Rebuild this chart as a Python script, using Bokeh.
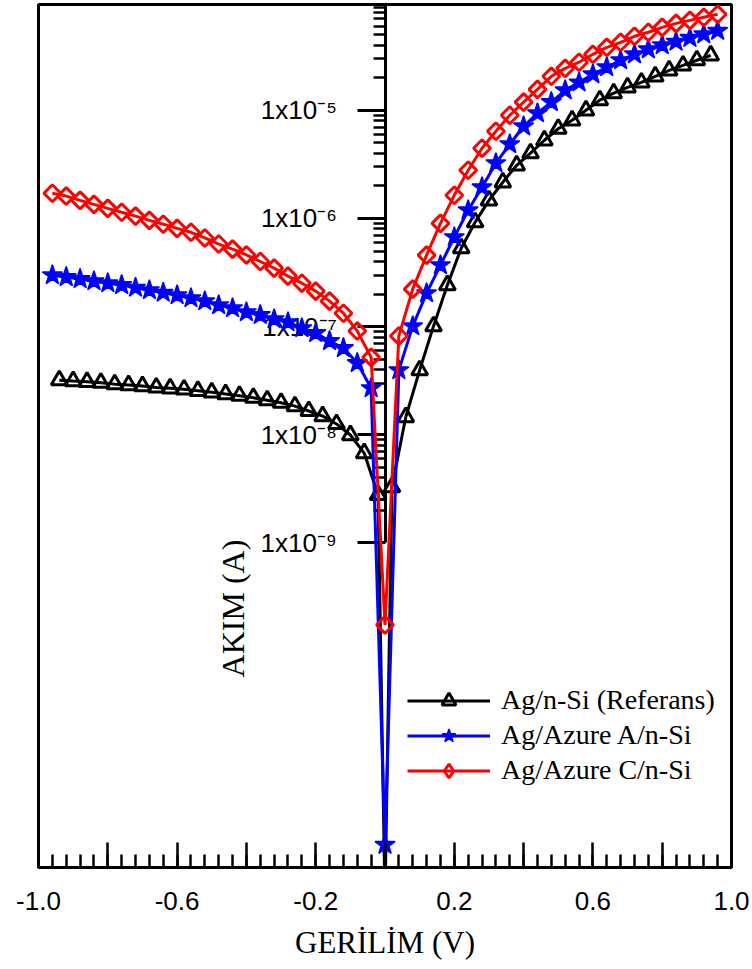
import numpy as np
from bokeh.plotting import figure
from bokeh.models import FixedTicker, Legend, LegendItem, Label, Range1d
from bokeh.embed import file_html
from bokeh.resources import INLINE

# ---- measured I-V data (current in A) ----
voltage_rb = [-0.96, -0.92, -0.88, -0.84, -0.80, -0.76, -0.72, -0.68, -0.64, -0.60,
              -0.56, -0.52, -0.48, -0.44, -0.40, -0.36, -0.32, -0.28, -0.24, -0.20,
              -0.16, -0.12, -0.08, -0.04, 0.0, 0.04, 0.08, 0.12, 0.16, 0.20,
              0.24, 0.28, 0.32, 0.36, 0.40, 0.44, 0.48, 0.52, 0.56, 0.60,
              0.64, 0.68, 0.72, 0.76, 0.80, 0.84, 0.88, 0.92, 0.96]

voltage_ref = [-0.94, -0.90, -0.86, -0.82, -0.78, -0.74, -0.70, -0.66, -0.62, -0.58,
               -0.54, -0.50, -0.46, -0.42, -0.38, -0.34, -0.30, -0.26, -0.22, -0.18,
               -0.14, -0.10, -0.06, -0.02, 0.0, 0.02, 0.06, 0.10, 0.14, 0.18,
               0.22, 0.26, 0.30, 0.34, 0.38, 0.42, 0.46, 0.50, 0.54, 0.58,
               0.62, 0.66, 0.70, 0.74, 0.78, 0.82, 0.86, 0.90, 0.94]

current_ref = [3.20e-8, 3.14e-8, 3.09e-8, 3.03e-8, 2.94e-8, 2.88e-8, 2.82e-8, 2.74e-8, 2.69e-8, 2.63e-8,
               2.55e-8, 2.47e-8, 2.38e-8, 2.30e-8, 2.20e-8, 2.09e-8, 1.98e-8, 1.84e-8, 1.66e-8, 1.49e-8,
               1.26e-8, 9.95e-9, 6.78e-9, 2.78e-9, 5.0e-13, 3.29e-9, 1.46e-8, 3.96e-8, 1.01e-7, 2.42e-7,
               5.31e-7, 9.23e-7, 1.47e-6, 2.16e-6, 3.10e-6, 4.01e-6, 5.28e-6, 6.75e-6, 8.08e-6, 1.00e-5,
               1.24e-5, 1.44e-5, 1.63e-5, 1.81e-5, 2.06e-5, 2.34e-5, 2.60e-5, 2.90e-5, 3.22e-5]

current_a = [2.99e-7, 2.87e-7, 2.75e-7, 2.63e-7, 2.52e-7, 2.42e-7, 2.29e-7, 2.17e-7, 2.06e-7, 1.95e-7,
             1.83e-7, 1.72e-7, 1.58e-7, 1.48e-7, 1.36e-7, 1.28e-7, 1.17e-7, 1.10e-7, 9.68e-8, 8.71e-8,
             7.35e-8, 6.33e-8, 4.60e-8, 2.70e-8, 1.62e-12, 3.96e-8, 1.01e-7, 2.04e-7, 3.70e-7, 6.71e-7,
             1.19e-6, 1.94e-6, 3.24e-6, 4.85e-6, 7.11e-6, 9.38e-6, 1.19e-5, 1.53e-5, 1.81e-5, 2.15e-5,
             2.50e-5, 2.90e-5, 3.29e-5, 3.66e-5, 3.99e-5, 4.30e-5, 4.67e-5, 5.04e-5, 5.43e-5]

current_c = [1.71e-6, 1.61e-6, 1.47e-6, 1.35e-6, 1.24e-6, 1.14e-6, 1.05e-6, 9.60e-7, 8.85e-7, 8.10e-7,
             7.45e-7, 6.60e-7, 5.80e-7, 5.20e-7, 4.60e-7, 4.00e-7, 3.47e-7, 2.93e-7, 2.52e-7, 2.13e-7,
             1.72e-7, 1.33e-7, 9.10e-8, 5.20e-8, 1.75e-10, 8.20e-8, 2.22e-7, 4.58e-7, 9.00e-7, 1.64e-6,
             2.79e-6, 4.46e-6, 6.40e-6, 9.00e-6, 1.19e-5, 1.56e-5, 2.06e-5, 2.44e-5, 2.78e-5, 3.29e-5,
             3.82e-5, 4.25e-5, 4.83e-5, 5.26e-5, 5.84e-5, 6.36e-5, 6.78e-5, 7.23e-5, 7.71e-5]

series_names = ["Ag/n-Si (Referans)", "Ag/Azure A/n-Si", "Ag/Azure C/n-Si"]

# ---- axis ticks ----
x_ticks = [-1.0, -0.8, -0.6, -0.4, -0.2, 0, 0.2, 0.4, 0.6, 0.8, 1.0]
x_tick_labels = ["-1.0", "", "-0.6", "", "-0.2", "", "0.2", "", "0.6", "", "1.0"]
x_minor_ticks = [round(-1.0 + 0.04 * i, 2) for i in range(51)]

y_ticks = [1e-9, 1e-8, 1e-7, 1e-6, 1e-5]
y_tick_labels = ["1x10\u207b\u2079", "1x10\u207b\u2078", "1x10\u207b\u2077",
                 "1x10\u207b\u2076", "1x10\u207b\u2075"]
y_minor_ticks = [m * 10.0 ** e for e in range(-9, -4) for m in range(2, 10)]

p = figure(width=752, height=969, title=None,
           x_range=Range1d(-1.0, 1.0), y_range=Range1d(1.0e-12, 9.5e-5),
           y_axis_type="log", output_backend="svg", toolbar_location=None,
           min_border_left=38, min_border_right=21, min_border_top=4, min_border_bottom=102)

p.background_fill_color = "white"
p.border_fill_color = "white"
p.outline_line_color = "black"
p.outline_line_width = 3
p.xgrid.visible = False
p.ygrid.visible = False

# bottom voltage axis, ticks pointing into the frame
xa = p.xaxis[0]
xa.ticker = FixedTicker(ticks=x_ticks, minor_ticks=x_minor_ticks)
xa.major_label_overrides = {t: lab for t, lab in zip(x_ticks, x_tick_labels)}
xa.axis_line_width = 3
xa.axis_line_color = "black"
xa.major_tick_in = 25
xa.major_tick_out = 0
xa.minor_tick_in = 13
xa.minor_tick_out = 0
xa.major_tick_line_width = 2.5
xa.minor_tick_line_width = 2.5
xa.major_label_text_font = "Liberation Sans"
xa.major_label_text_font_size = "26px"
xa.major_label_text_color = "black"
xa.major_label_standoff = 24
xa.axis_label = "GER\u0130L\u0130M (V)"
xa.axis_label_text_font = "Liberation Serif"
xa.axis_label_text_font_size = "31px"
xa.axis_label_text_font_style = "normal"
xa.axis_label_text_color = "black"
xa.axis_label_standoff = 12

# current axis sits at V = 0, drawn beneath the curves
ya = p.yaxis[0]
ya.fixed_location = 0
ya.level = "underlay"
ya.bounds = (1e-9, 1e-4)
ya.ticker = FixedTicker(ticks=y_ticks, minor_ticks=y_minor_ticks)
ya.major_label_overrides = {t: lab for t, lab in zip(y_ticks, y_tick_labels)}
ya.axis_line_width = 3
ya.axis_line_color = "black"
ya.major_tick_in = 0
ya.major_tick_out = 28
ya.minor_tick_in = 0
ya.minor_tick_out = 12
ya.major_tick_line_width = 3
ya.minor_tick_line_width = 2.5
ya.major_label_text_font = "Liberation Sans"
ya.major_label_text_font_size = "26px"
ya.major_label_text_color = "black"
ya.major_label_standoff = 20

styles = [
    dict(x=voltage_ref, y=current_ref, color="#000000", marker="triangle", size=16, angle=0.0, fill=0.0, lw=3,
         key_marker="triangle", key_size=16),
    dict(x=voltage_rb, y=current_a, color="#0000ff", marker="star", size=21, angle=0.0, fill=1.0, lw=1.5,
         key_marker="star", key_size=21),
    dict(x=voltage_rb, y=current_c, color="#ff0000", marker="square", size=12, angle=np.pi / 4, fill=0.0, lw=3,
         key_marker="diamond", key_size=19),
]

items = []
for name, st in zip(series_names, styles):
    ln = p.line(st["x"], st["y"], line_color=st["color"], line_width=3)
    sc = p.scatter(st["x"], st["y"], marker=st["marker"], size=st["size"], angle=st["angle"],
                   line_color=st["color"], line_width=st["lw"],
                   fill_color=st["color"], fill_alpha=st["fill"])
    # key symbol for the legend only: a single undefined point, so nothing lands in the frame
    key = p.scatter(x=[np.nan], y=[np.nan], marker=st["key_marker"], size=st["key_size"],
                    line_color=st["color"], line_width=st["lw"],
                    fill_color=st["color"], fill_alpha=st["fill"])
    items.append(LegendItem(label=name, renderers=[ln, key]))

legend = Legend(items=items, location=(369, 79.5), orientation="vertical",
                padding=0, margin=0, spacing=0, label_standoff=11,
                glyph_width=83, glyph_height=35, label_height=35,
                label_text_font="Liberation Serif", label_text_font_size="28px",
                label_text_color="black",
                border_line_alpha=0, background_fill_alpha=0)
p.add_layout(legend)

p.add_layout(Label(x=194, y=259, x_units="screen", y_units="screen", text="AKIM (A)",
                   angle=np.pi / 2, text_align="center", text_baseline="middle",
                   text_font="Liberation Serif", text_font_size="32px", text_color="black"))

open("out.html", "w").write(file_html(p, INLINE))
